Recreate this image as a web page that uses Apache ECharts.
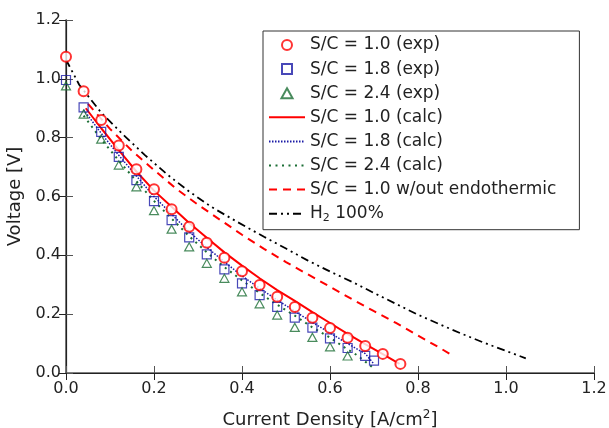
<!DOCTYPE html>
<html><head><meta charset="utf-8">
<script src="https://cdn.jsdelivr.net/npm/echarts@6/dist/echarts.min.js"></script>
<style>html,body{margin:0;padding:0;background:#fff}#c{width:609px;height:428px}</style>
</head><body><div id="c"></div>
<script>
// Experimental data [current density, voltage]
const expSC10 = [[0,1.075],[0.04,0.958],[0.08,0.86],[0.12,0.773],[0.16,0.693],[0.2,0.625],[0.24,0.557],[0.28,0.497],[0.32,0.443],[0.36,0.392],[0.4,0.346],[0.44,0.299],[0.48,0.259],[0.52,0.224],[0.56,0.188],[0.6,0.153],[0.64,0.12],[0.68,0.092],[0.72,0.065],[0.76,0.031]];
const expSC18 = [[0,0.996],[0.04,0.903],[0.08,0.82],[0.12,0.735],[0.16,0.656],[0.2,0.584],[0.24,0.52],[0.28,0.461],[0.32,0.403],[0.36,0.352],[0.4,0.305],[0.44,0.265],[0.48,0.225],[0.52,0.188],[0.56,0.154],[0.6,0.118],[0.64,0.085],[0.68,0.058],[0.70,0.042]];
const expSC24 = [[0,0.976],[0.04,0.88],[0.08,0.795],[0.12,0.707],[0.16,0.633],[0.2,0.552],[0.24,0.489],[0.28,0.429],[0.32,0.373],[0.36,0.322],[0.4,0.276],[0.44,0.235],[0.48,0.197],[0.52,0.155],[0.56,0.121],[0.6,0.089],[0.64,0.058]];
// Calculated curves
const calcSC10 = [[0.045,0.9],[0.08,0.832],[0.12,0.758],[0.16,0.685],[0.2,0.62],[0.24,0.565],[0.28,0.51],[0.32,0.46],[0.36,0.41],[0.4,0.365],[0.44,0.322],[0.48,0.282],[0.52,0.245],[0.56,0.207],[0.6,0.17],[0.64,0.133],[0.68,0.098],[0.72,0.064],[0.758,0.031]];
const calcSC18 = [[0.04,0.895],[0.08,0.815],[0.12,0.74],[0.16,0.67],[0.2,0.6],[0.24,0.54],[0.28,0.48],[0.32,0.427],[0.36,0.378],[0.4,0.33],[0.44,0.288],[0.48,0.248],[0.52,0.21],[0.56,0.172],[0.6,0.136],[0.64,0.1],[0.68,0.066],[0.698,0.034]];
const calcSC24 = [[0.04,0.875],[0.08,0.795],[0.12,0.722],[0.16,0.652],[0.2,0.585],[0.24,0.525],[0.28,0.465],[0.32,0.41],[0.36,0.36],[0.4,0.315],[0.44,0.272],[0.48,0.232],[0.52,0.195],[0.56,0.155],[0.6,0.12],[0.64,0.08],[0.66,0.062],[0.695,0.021]];
const calcNoEndo = [[0.05,0.915],[0.1,0.83],[0.15,0.755],[0.2,0.69],[0.25,0.627],[0.3,0.572],[0.35,0.521],[0.4,0.47],[0.45,0.422],[0.5,0.377],[0.55,0.335],[0.6,0.293],[0.65,0.251],[0.7,0.21],[0.75,0.17],[0.8,0.127],[0.85,0.085],[0.88,0.058]];
const calcH2 = [[0,1.065],[0.03,0.98],[0.08,0.885],[0.13,0.81],[0.18,0.74],[0.23,0.675],[0.28,0.617],[0.33,0.565],[0.39,0.513],[0.45,0.463],[0.5,0.423],[0.55,0.382],[0.6,0.345],[0.65,0.31],[0.7,0.272],[0.75,0.235],[0.8,0.198],[0.85,0.165],[0.9,0.133],[0.95,0.103],[1.0,0.075],[1.045,0.05]];
const seriesNames = ['S/C = 1.0 (exp)','S/C = 1.8 (exp)','S/C = 2.4 (exp)','S/C = 1.0 (calc)','S/C = 1.8 (calc)','S/C = 2.4 (calc)','S/C = 1.0 w/out endothermic','H2 100%'];
const xTicks = [0,0.2,0.4,0.6,0.8,1.0,1.2];
const yTicks = [0,0.2,0.4,0.6,0.8,1.0,1.2];

const FONT = 'DejaVu Sans';
const RED = '#ff0000', BLUE = '#1a1aa6', GREEN = '#1b6e35';
const SQUARE = 'path://M0,0L10,0L10,10L0,10Z';
const TRIANGLE = 'path://M5,0L10,9L0,9Z';
const chart = echarts.init(document.getElementById('c'));
const fmt = v => v.toFixed(1);
const lineS = (name, data, color, width, type, z) => ({
  name, type: 'line', data, symbol: 'none', smooth: false, z,
  lineStyle: { color, width, type }, itemStyle: { color }
});
chart.setOption({
  animation: false,
  grid: { left: 66, right: 15, top: 20, bottom: 55, outerBoundsMode: 'none', containLabel: false },
  legend: {
    orient: 'vertical', left: 263, top: 31,
    padding: [4, 23, 6, 5], itemWidth: 36, itemHeight: 10, itemGap: 4.1,
    borderColor: '#333', borderWidth: 1, backgroundColor: '#fff',
    data: seriesNames.map((n, i) => i < 3 ? { name: n } : { name: n, itemStyle: { opacity: 0 } }),
    textStyle: { fontFamily: FONT, fontSize: 17, color: '#222', lineHeight: 20,
      rich: { sub: { fontFamily: FONT, fontSize: 11, color: '#222', verticalAlign: 'bottom', padding: [8,0,0,0] } } },
    formatter: n => n === 'H2 100%' ? 'H{sub|2} 100%' : n
  },
  xAxis: [{
    type: 'value', min: 0, max: 1.2, interval: 0.2,
    name: '{a|Current Density [A/cm}{s|2}{a|]}', nameLocation: 'middle', nameGap: 36,
    nameTextStyle: { rich: {
      a: { fontFamily: FONT, fontSize: 18, color: '#222' },
      s: { fontFamily: FONT, fontSize: 12, color: '#222', verticalAlign: 'top', padding: [0,0,10,0] } } },
    axisLine: { lineStyle: { color: '#555', width: 1.5 } },
    axisTick: { inside: true, length: 7, lineStyle: { color: '#555' } },
    axisLabel: { fontFamily: FONT, fontSize: 16, color: '#222', margin: 8, formatter: fmt },
    splitLine: { show: false }
  }, {
    type: 'value', position: 'top', min: 0, max: 1.2, interval: 0.2,
    axisLine: { show: true, lineStyle: { color: '#222', width: 1.2 } },
    axisTick: { inside: true, length: 7, lineStyle: { color: '#222' } },
    axisLabel: { show: false }, splitLine: { show: false }
  }],
  yAxis: [{
    type: 'value', min: 0, max: 1.2, interval: 0.2,
    name: 'Voltage [V]', nameLocation: 'middle', nameGap: 38,
    nameTextStyle: { fontFamily: FONT, fontSize: 18, color: '#222' },
    axisLine: { show: true, lineStyle: { color: '#555', width: 1.5 } },
    axisTick: { show: true, inside: true, length: 7, lineStyle: { color: '#555' } },
    axisLabel: { fontFamily: FONT, fontSize: 16, color: '#222', margin: 5, formatter: fmt },
    splitLine: { show: false }
  }, {
    type: 'value', position: 'right', min: 0, max: 1.2, interval: 0.2,
    axisLine: { show: true, lineStyle: { color: '#222', width: 1.2 } },
    axisTick: { show: true, inside: true, length: 7, lineStyle: { color: '#222' } },
    axisLabel: { show: false }, splitLine: { show: false }
  }],
  series: [
    { name: seriesNames[0], type: 'scatter', data: expSC10, symbol: 'emptyCircle', symbolSize: 10, z: 10,
      itemStyle: { color: RED, borderColor: RED, borderWidth: 2 } },
    { name: seriesNames[1], type: 'scatter', data: expSC18, symbol: SQUARE, symbolKeepAspect: true, symbolSize: 9, z: 9,
      itemStyle: { color: 'rgba(255,255,255,0)', borderColor: BLUE, borderWidth: 1.2 } },
    { name: seriesNames[2], type: 'scatter', data: expSC24, symbol: TRIANGLE, symbolKeepAspect: true, symbolSize: 9, z: 9,
      itemStyle: { color: 'rgba(255,255,255,0)', borderColor: GREEN, borderWidth: 1.2 } },
    lineS(seriesNames[3], calcSC10, RED, 2, 'solid', 5),
    lineS(seriesNames[4], calcSC18, BLUE, 1.5, [1.5, 1.5], 4),
    lineS(seriesNames[5], calcSC24, GREEN, 2, [2, 4.5], 4),
    lineS(seriesNames[6], calcNoEndo, RED, 2, [8, 6], 4),
    lineS(seriesNames[7], calcH2, '#000', 1.8, [8, 4, 2, 4, 2, 4], 4)
  ]
});
</script></body></html>
